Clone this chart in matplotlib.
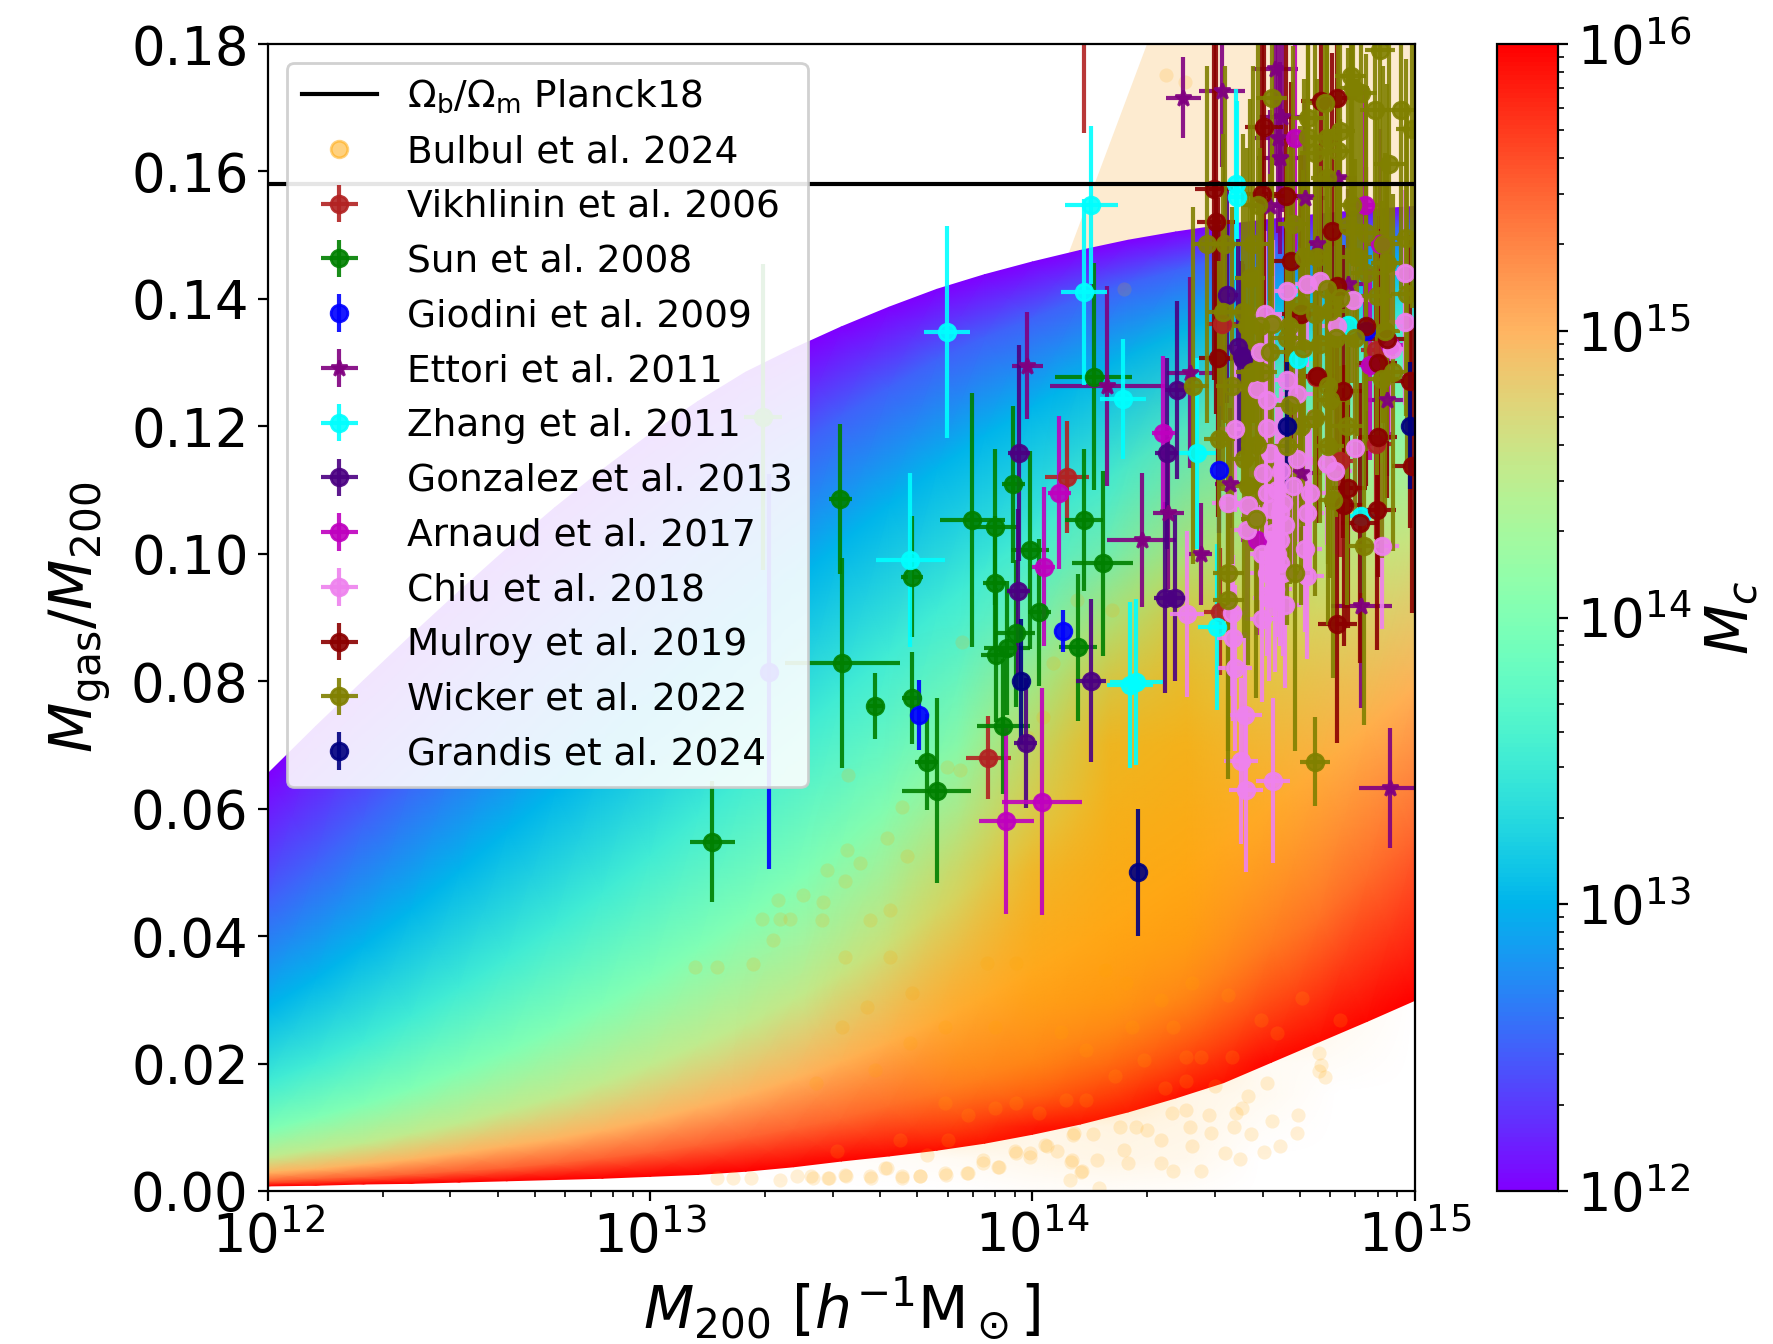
#!/usr/bin/env python3
"""Gas fraction vs halo mass, model band with the observed cluster samples on top."""

import matplotlib
matplotlib.use("Agg")
import matplotlib.pyplot as plt
import numpy as np
from matplotlib.cm import ScalarMappable
from matplotlib.colors import LinearSegmentedColormap, LogNorm, Normalize, to_rgba
from matplotlib.image import NonUniformImage
from matplotlib.lines import Line2D

W, H = 1773, 1344
FB_PLANCK = 0.158

# Model band: one row per log10(M200) column, one entry per log10(Mc)
band_logmc = [12.0, 12.5, 13.0, 13.5, 14.0, 14.5, 15.0, 15.5, 16.0]
band_logm = [12.0, 12.125, 12.25, 12.375, 12.5, 12.625, 12.75, 12.875, 13.0, 13.125, 13.25, 13.375, 13.5,
             13.625, 13.75, 13.875, 14.0, 14.125, 14.25, 14.375, 14.5, 14.625, 14.75, 14.875, 15.0]
band_f = [
    [.0655, .0455, .0288, .0171, .0096, .0053, .0029, .0015, .0008],
    [.0729, .0515, .0333, .0201, .0115, .0064, .0034, .0018, .0009],
    [.0801, .0583, .0386, .0235, .0136, .0075, .0041, .0021, .0011],
    [.0872, .0652, .0441, .0274, .0160, .0090, .0049, .0025, .0012],
    [.0941, .0724, .0502, .0318, .0189, .0106, .0059, .0030, .0014],
    [.1008, .0792, .0564, .0365, .0219, .0126, .0070, .0035, .0016],
    [.1072, .0859, .0626, .0415, .0253, .0146, .0081, .0042, .0018],
    [.1132, .0925, .0692, .0468, .0291, .0170, .0095, .0050, .0020],
    [.1188, .0991, .0758, .0526, .0333, .0198, .0111, .0059, .0023],
    [.1239, .1054, .0826, .0588, .0380, .0229, .0131, .0070, .0026],
    [.1285, .1111, .0891, .0649, .0430, .0262, .0151, .0082, .0031],
    [.1322, .1164, .0955, .0713, .0483, .0300, .0175, .0096, .0038],
    [.1356, .1216, .1018, .0779, .0540, .0342, .0203, .0112, .0047],
    [.1387, .1261, .1076, .0843, .0600, .0388, .0234, .0132, .0055],
    [.1415, .1305, .1133, .0909, .0663, .0439, .0268, .0152, .0064],
    [.1438, .1340, .1185, .0972, .0727, .0492, .0305, .0176, .0075],
    [.1458, .1370, .1230, .1030, .0790, .0548, .0347, .0204, .0089],
    [.1476, .1401, .1274, .1087, .0852, .0606, .0392, .0234, .0105],
    [.1492, .1425, .1311, .1139, .0914, .0666, .0441, .0265, .0124],
    [.1505, .1445, .1344, .1188, .0974, .0728, .0493, .0300, .0146],
    [.1516, .1464, .1374, .1233, .1032, .0790, .0548, .0340, .0170],
    [.1525, .1480, .1401, .1274, .1087, .0852, .0606, .0385, .0202],
    [.1533, .1494, .1425, .1311, .1139, .0914, .0666, .0425, .0234],
    [.1540, .1506, .1445, .1344, .1188, .0974, .0728, .0490, .0266],
    [.1545, .1516, .1464, .1374, .1233, .1032, .0790, .0548, .0299],
]

# Bulbul sample: saturated area above the band
pale_logm = [14.05, 14.30, 15.0, 15.0]
pale_f = [0.14, 0.18, 0.18, 0.14]

# Bulbul sample: how much the dense cloud covers the band
cloud_logm = [13.2, 13.4, 13.6, 13.8, 14.0, 14.2, 14.4, 14.6, 14.8, 15.0]
cloud_f = [0.0, .005, .010, .015, .020, .030, .040, .050, .060, .070, .080, .090, .100, .110, .120, .140]
cloud_cover = [
    [0, 0, 0, 0, .02, .03, .02, 0, 0, 0],
    [0, .02, .03, .05, .08, .10, .08, 0, 0, 0],
    [0, .05, .12, .22, .10, .12, .10, .03, 0, 0],
    [0, .08, .20, .38, .40, .28, .10, .06, 0, 0],
    [0, .05, .22, .50, .55, .45, .25, .05, .03, 0],
    [0, .03, .20, .50, .70, .72, .55, .25, .08, 0],
    [0, 0, .12, .40, .72, .78, .75, .42, .15, .03],
    [0, 0, .06, .30, .68, .80, .80, .55, .25, .05],
    [0, 0, .02, .15, .50, .80, .80, .60, .30, .08],
    [0, 0, 0, .07, .40, .78, .80, .55, .30, .10],
    [0, 0, 0, .03, .25, .60, .72, .50, .30, .10],
    [0, 0, 0, 0, .08, .35, .60, .45, .25, .10],
    [0, 0, 0, 0, .02, .12, .35, .35, .20, .08],
    [0, 0, 0, 0, 0, .04, .20, .25, .15, .06],
    [0, 0, 0, 0, 0, .02, .10, .15, .10, .05],
    [0, 0, 0, 0, 0, 0, 0, 0, 0, 0],
]

# Bulbul sample: single points that can be told apart
bulbul_logm = [14.750, 14.755, 14.750, 14.766, 14.614, 14.565, 14.695, 14.692, 14.627, 14.648, 14.606,
               14.572, 14.543, 14.505, 14.549, 14.532, 14.527, 14.478, 14.462, 14.467, 14.440, 14.418,
               14.413, 14.369, 14.337, 14.337, 14.299, 14.250, 14.239, 14.272, 14.228, 14.168, 14.130,
               14.098, 14.103, 14.109, 14.065, 14.033, 13.995, 13.957, 13.913, 13.870, 13.832, 13.772,
               13.707, 13.658, 13.620, 13.577, 13.511, 13.468, 13.425, 14.174, 14.364, 14.402,
               13.815, 13.518, 13.658, 13.619, 13.514, 13.549, 13.462, 13.510, 13.335, 13.401, 13.453,
               13.292, 13.340, 13.366, 13.449, 13.575, 13.510, 13.322, 13.270, 13.174, 13.117, 13.671,
               13.627, 13.627, 13.776, 13.810, 14.055, 14.116, 14.207, 14.028, 13.985, 14.240, 14.350,
               14.400,
               13.490, 13.653, 13.778, 13.832, 13.902, 13.957, 14.016, 14.087, 14.141, 14.217, 14.293,
               14.402, 14.440, 14.402, 14.348, 14.511, 14.597, 14.639, 14.706, 14.804, 14.418, 14.245,
               14.337, 14.190, 14.076, 13.902, 13.772, 13.680, 13.587, 13.435, 13.501, 13.881, 13.957,
               13.685, 13.566, 13.772, 14.141, 14.521, 14.261, 14.369,
               13.174, 13.217, 13.265, 13.339, 13.383, 13.422, 13.466, 13.509, 13.575, 13.614, 13.658,
               13.706, 13.723, 13.775, 13.828, 13.871, 13.910, 13.954, 13.993, 14.037, 14.107, 14.102,
               14.128, 14.159]
bulbul_f = [.0216, .0198, .0188, .0179, .0169, .0149, .0119, .0091, .0110, .0070, .0061,
            .0090, .0050, .0060, .0130, .0122, .0101, .0164, .0119, .0091, .0031, .0070,
            .0101, .0031, .0044, .0080, .0096, .0044, .0065, .0101, .0101, .0049, .0031,
            .0018, .0049, .0091, .0062, .0072, .0059, .0059, .0038, .0044, .0028, .0028,
            .0023, .0020, .0036, .0020, .0023, .0020, .0020, .0005, .0122, .0127,
            .0861, .0653, .0603, .0554, .0535, .0514, .0504, .0486, .0457, .0465, .0454,
            .0427, .0427, .0427, .0425, .0425, .0368, .0394, .0357, .0352, .0352, .0525,
            .0441, .0368, .0666, .0661, .0828, .0928, .0912, .0744, .0713, .1415, .1752,
            .1741,
            .0062, .0080, .0080, .0119, .0130, .0138, .0122, .0143, .0221, .0180, .0206,
            .0211, .0211, .0172, .0161, .0308, .0269, .0248, .0303, .0269, .0326, .0326,
            .0300, .0347, .0250, .0258, .0258, .0232, .0190, .0169, .0258, .0358, .0358,
            .0310, .0289, .0138, .0143, .0211, .0258, .0258,
            .0020, .0020, .0020, .0017, .0023, .0023, .0020, .0025, .0023, .0036, .0023,
            .0023, .0057, .0025, .0028, .0049, .0038, .0062, .0054, .0070, .0088, .0046,
            .0030, .0090]

vikhlinin_logm = [14.090, 13.885, 14.497, 14.900, 14.805, 14.900, 14.490, 14.743, 14.136]
vikhlinin_f = [.1120, .0680, .1360, .1173, .1145, .1320, .0909, .1278, .1920]
vikhlinin_dex = [.058, .060, .040, .040, .040, .040, .040, .040, .030]
vikhlinin_ferr = [.0088, .0065, .0150, .0150, .0150, .0150, .0100, .0150, .0260]

sun_logm = [13.163, 13.295, 13.497, 13.503, 13.589, 13.685, 13.685, 13.724, 13.750, 13.843, 13.902, 13.902,
            13.906, 13.933, 13.924, 13.950, 13.957, 13.994, 14.018, 14.120, 14.136, 14.184, 14.160]
sun_f = [.0548, .1215, .1086, .0829, .0761, .0964, .0774, .0673, .0628, .1053, .1042, .0954,
         .0841, .0852, .0729, .1109, .0875, .1006, .0908, .0853, .1053, .0985, .1278]
sun_dex = [.060, .050, .030, .150, .020, .030, .025, .030, .090, .085, .060, .030,
           .040, .060, .070, .030, .050, .050, .030, .050, .050, .080, .100]
sun_ferr = [.0095, .0240, .0117, .0165, .0052, .0095, .0072, .0075, .0145, .0200, .0123, .0105,
            .0105, .0105, .0106, .0123, .0115, .0156, .0115, .0115, .0111, .0145, .0178]

giodini_logm = [13.311, 13.702, 14.081, 14.874, 14.488]
giodini_f = [.0815, .0747, .0879, .1349, .1132]
giodini_ferr = [.0310, .0055, .0033, .0100, .0100]

ettori_logm = [14.635, 14.652, 14.643, 14.648, 14.713, 14.744, 14.622, 14.495, 14.395, 14.826, 14.800,
               14.196, 14.412, 14.927, 14.704, 14.517, 14.356, 14.286, 14.441, 14.861, 14.935, 13.987]
ettori_f = [.1760, .1686, .1653, .1621, .1559, .1486, .1546, .1727, .1716, .1423, .1590,
            .1263, .1284, .1242, .1127, .1109, .1064, .1021, .1000, .0918, .0632, .1295]
ettori_dex = [.060, .060, .060, .060, .060, .050, .050, .060, .045, .050, .050,
              .150, .060, .050, .050, .040, .040, .090, .030, .080, .080, .040]
ettori_ferr = [.0150, .0150, .0150, .0150, .0150, .0150, .0150, .0120, .0063, .0150, .0150,
               .0157, .0150, .0120, .0120, .0120, .0120, .0105, .0080, .0160, .0094, .0084]

zhang_logm = [13.777, 14.135, 14.238, 13.681, 14.533, 14.536, 14.154, 14.430, 14.482, 14.255, 14.272, 14.826, 14.861, 14.696]
zhang_f = [.1348, .1411, .1243, .0990, .1580, .1560, .1548, .1158, .0885, .0794, .0799, .1359, .1059, .1305]
zhang_dex = [.061, .060, .060, .090, .030, .030, .070, .060, .050, .060, .070, .040, .040, .040]
zhang_ferr = [.0167, .0146, .0094, .0137, .0150, .0150, .0124, .0150, .0130, .0130, .0130, .0120, .0120, .0120]

gonzalez_logm = [13.965, 13.963, 13.982, 14.153, 14.378, 14.351, 14.347, 14.373, 14.508, 14.539, 14.552, 14.548]
gonzalez_f = [.1158, .0941, .0703, .0801, .1257, .1158, .0931, .0931, .1406, .1324, .1305, .1310]
gonzalez_dex = [.030, .030, .030, .040, .030, .030, .030, .030, .030, .040, .040, .030]
gonzalez_ferr = [.0170, .0130, .0102, .0128, .0140, .0150, .0150, .0130, .0170, .0170, .0150, .0150]

arnaud_logm = [14.070, 14.030, 14.026, 13.931, 14.343, 14.870, 14.687, 14.909, 14.935, 14.587, 14.883]
arnaud_f = [.1096, .0980, .0611, .0580, .1190, .1548, .1653, .1486, .1328, .1022, .1297]
arnaud_dex = [.030, .030, .105, .072, .030, .040, .030, .040, .040, .040, .040]
arnaud_ferr = [.0120, .0125, .0178, .0146, .0120, .0180, .0180, .0180, .0150, .0150, .0150]

chiu_logm = [14.665, 14.718, 14.752, 14.840, 14.608, 14.796, 14.595, 14.975, 14.975, 14.940, 14.630,
             14.530, 14.613, 14.691, 14.613, 14.587, 14.665, 14.844, 14.691, 14.622, 14.770, 14.792,
             14.604, 14.683, 14.726, 14.613, 14.513, 14.565, 14.718, 14.648, 14.630, 14.561, 14.713,
             14.613, 14.718, 14.914, 14.648, 14.648, 14.404, 14.521, 14.600, 14.526, 14.530, 14.556,
             14.545, 14.630, 14.559,
             14.640, 14.655, 14.625, 14.660, 14.640, 14.655, 14.635, 14.660, 14.620, 14.600, 14.590, 14.650]
chiu_f = [.1412, .1423, .1428, .1399, .1376, .1357, .1316, .1441, .1363, .1321, .1363,
          .1196, .1197, .1250, .1242, .1258, .1273, .1166, .1148, .1158, .1143, .1130,
          .1127, .1106, .1096, .1096, .1080, .1077, .1064, .1064, .1033, .1038, .1007,
          .0970, .0965, .1012, .0986, .1022, .0905, .0907, .0897, .0868, .0821, .0747,
          .0675, .0644, .0630,
          .1100, .1080, .1070, .1045, .1000, .0970, .0945, .0920, .0930, .1000, .1060, .1130]
chiu_dex = 0.044
chiu_ferr = 0.013

mulroy_logm = [14.475, 14.480, 14.606, 14.600, 14.663, 14.676, 14.754, 14.798, 14.783, 14.796, 14.486, 14.704,
               14.874, 14.927, 14.744, 14.813, 14.905, 14.905, 14.901, 14.826, 14.816, 14.857, 14.798, 14.988, 14.992]
mulroy_f = [.1573, .1520, .1669, .1564, .1561, .1460, .1710, .1716, .1506, .1420, .1308, .1376,
            .1357, .1337, .1279, .1255, .1300, .1183, .1069, .1104, .1076, .1048, .0890, .1271, .1137]
mulroy_dex = 0.05
mulroy_ferr = [.0300, .0300, .0300, .0300, .0280, .0280, .0300, .0300, .0280, .0280, .0250, .0250,
               .0250, .0250, .0230, .0230, .0230, .0220, .0220, .0220, .0220, .0220, .0187, .0230, .0230]

wicker_logm = [14.909, 14.833, 14.840, 14.861, 14.766, 14.626, 14.896, 14.964, 14.722, 14.805, 14.722, 14.770,
               14.992, 14.739, 14.800, 14.770, 14.934, 14.835, 14.683, 14.827, 14.874, 14.591, 14.456, 14.504,
               14.578, 14.744, 14.711, 14.977, 14.918, 14.848, 14.927, 14.569, 14.874, 14.979, 14.770, 14.805,
               14.700, 14.500, 14.550, 14.561, 14.595, 14.626, 14.672, 14.922, 14.739, 14.779, 14.665, 14.844,
               14.794, 14.622, 14.709, 14.752, 14.901, 14.421, 14.521, 14.574, 14.600, 14.674, 14.704, 14.739,
               14.822, 14.774, 14.779, 14.944, 14.916, 14.489, 14.587, 14.554, 14.667, 14.774, 14.563, 14.585,
               14.787, 14.868, 14.513, 14.687, 14.513, 14.739]
wicker_f = [.1790, .1750, .1731, .1723, .1708, .1716, .1696, .1696, .1684, .1663, .1654, .1653,
            .1666, .1629, .1632, .1590, .1611, .1548, .1517, .1514, .1504, .1548, .1486, .1486,
            .1486, .1465, .1465, .1496, .1486, .1465, .1457, .1433, .1441, .1407, .1415, .1402,
            .1391, .1379, .1379, .1357, .1357, .1360, .1358, .1349, .1376, .1381, .1339, .1339,
            .1338, .1316, .1323, .1329, .1404, .1264, .1264, .1285, .1285, .1233, .1200, .1213,
            .1200, .1264, .1242, .1285, .1274, .1180, .1170, .1148, .1169, .1169, .1106, .1054,
            .1085, .1012, .0970, .0970, .0927, .0674]
wicker_dex = 0.04
wicker_ferr = [.028] * (len(wicker_f) - 1) + [.007]

grandis_logm = [14.277, 13.969, 14.665, 14.987]
grandis_f = [.0500, .0800, .1201, .1201]
grandis_ferr = [.0100, .0098, .0100, .0100]


def draw_series(ax, logm, f, color, label, ferr, dex=None, marker="o"):
    m = 10.0 ** np.asarray(logm)
    xerr = None
    if dex is not None:
        d = np.asarray(dex)
        xerr = [m - 10.0 ** (np.asarray(logm) - d), 10.0 ** (np.asarray(logm) + d) - m]
    ax.errorbar(m, f, xerr=xerr, yerr=ferr, fmt=marker, color=color, alpha=0.9, label=label)


def main():
    plt.rcParams["font.size"] = 19

    fig = plt.figure(figsize=(W / 200, H / 200), dpi=200)
    box = [268 / W, 1 - 1191 / H, (1414.6 - 268) / W, (1191 - 44) / H]
    # band below, cloud over it, points and axes on top
    ax_band = fig.add_axes(box, zorder=0)
    ax_cloud = fig.add_axes(box, zorder=1)
    ax = fig.add_axes(box, zorder=2)
    cax = fig.add_axes([1497 / W, 1 - 1191 / H, 61 / W, (1191 - 44) / H])

    ax_band.set_xscale("log")
    ax_band.set_xlim(1e12, 1e15)
    ax_band.set_ylim(0, 0.18)
    ax_band.axis("off")
    ax_band.fill(10.0 ** np.array(pale_logm), pale_f, color="#fdebd0", lw=0)

    norm = LogNorm(1e12, 1e16)
    x = np.repeat(10.0 ** np.array(band_logm)[:, None], len(band_logmc), axis=1)
    y = np.array(band_f)
    c = np.repeat(10.0 ** np.array(band_logmc)[None, :], len(band_logm), axis=0)
    ax_band.pcolormesh(x, y, c, shading="gouraud", cmap="rainbow", norm=norm)

    cloud_cmap = LinearSegmentedColormap.from_list("cloud", [to_rgba("orange", 0), to_rgba("orange", 1)])
    im = NonUniformImage(ax_cloud, interpolation="bilinear", cmap=cloud_cmap, norm=Normalize(0, 1),
                         extent=(12, 15, 0, 0.18))
    im.set_data(cloud_logm, cloud_f, np.array(cloud_cover, dtype=float))
    ax_cloud.add_image(im)
    ax_cloud.set_xlim(12, 15)
    ax_cloud.set_ylim(0, 0.18)
    ax_cloud.axis("off")

    ax.patch.set_visible(False)
    ax.scatter(10.0 ** np.array(bulbul_logm), bulbul_f, s=26, color="orange", alpha=0.16, lw=0, zorder=0.95)

    line = ax.axhline(FB_PLANCK, color="black", label=r"$\mathrm{\Omega_b/\Omega_m}$ Planck18", zorder=2.5)

    draw_series(ax, vikhlinin_logm, vikhlinin_f, "firebrick", "Vikhlinin et al. 2006", vikhlinin_ferr, vikhlinin_dex)
    draw_series(ax, sun_logm, sun_f, "green", "Sun et al. 2008", sun_ferr, sun_dex)
    draw_series(ax, giodini_logm, giodini_f, "blue", "Giodini et al. 2009", giodini_ferr)
    draw_series(ax, ettori_logm, ettori_f, "purple", "Ettori et al. 2011", ettori_ferr, ettori_dex, marker="*")
    draw_series(ax, zhang_logm, zhang_f, "cyan", "Zhang et al. 2011", zhang_ferr, zhang_dex)
    draw_series(ax, gonzalez_logm, gonzalez_f, "indigo", "Gonzalez et al. 2013", gonzalez_ferr, gonzalez_dex)
    draw_series(ax, arnaud_logm, arnaud_f, "m", "Arnaud et al. 2017", arnaud_ferr, arnaud_dex)
    draw_series(ax, chiu_logm, chiu_f, "violet", "Chiu et al. 2018", chiu_ferr, chiu_dex)
    draw_series(ax, mulroy_logm, mulroy_f, "darkred", "Mulroy et al. 2019", mulroy_ferr, mulroy_dex)
    draw_series(ax, wicker_logm, wicker_f, "olive", "Wicker et al. 2022", wicker_ferr, wicker_dex)
    draw_series(ax, grandis_logm, grandis_f, "navy", "Grandis et al. 2024", grandis_ferr)

    ax.set_xscale("log")
    ax.set_xlim(1e12, 1e15)
    ax.set_ylim(0, 0.18)
    ax.set_yticks(np.arange(0, 0.181, 0.02))
    ax.set_yticklabels([f"{v:.2f}" for v in np.arange(0, 0.181, 0.02)])
    ax.set_xlabel(r"$M_{200}\ [h^{-1}\mathrm{M}_\odot]$", fontsize=21, labelpad=4)
    ax.set_ylabel(r"$M_{\mathrm{gas}}/M_{200}$", fontsize=21, labelpad=6)

    handles, labels = ax.get_legend_handles_labels()
    bulbul_handle = Line2D([], [], marker="o", ls="none", color="orange", alpha=0.5, ms=6, label="Bulbul et al. 2024")
    idx = handles.index(line)
    rest = [h for i, h in enumerate(handles) if i != idx]
    ax.legend([line, bulbul_handle] + rest,
              [line.get_label(), bulbul_handle.get_label()] + [h.get_label() for h in rest],
              loc="upper left", fontsize=13.5, framealpha=0.9)

    cb = fig.colorbar(ScalarMappable(norm=norm, cmap="rainbow"), cax=cax)
    cb.set_label(r"$M_c$", fontsize=21)

    fig.savefig("out.png", dpi=200)


if __name__ == "__main__":
    main()
